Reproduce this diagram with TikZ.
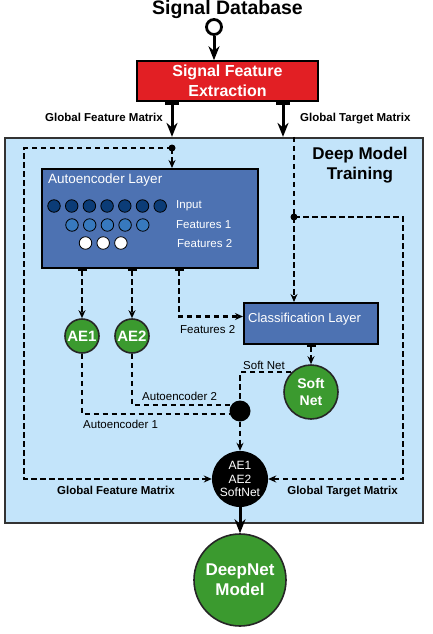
\documentclass[tikz,border=0pt]{standalone}
\usepackage{fontspec}
\setmainfont{Liberation Sans}
\usepackage{tikz}
\usetikzlibrary{arrows.meta, positioning}

\definecolor{sigred}{HTML}{E21F24}
\definecolor{trainbg}{HTML}{C3E4FA}
\definecolor{layerblue}{HTML}{4D72B2}
\definecolor{netgreen}{HTML}{3B9A2F}
\definecolor{inputblue}{HTML}{0B3C77}
\definecolor{featblue}{HTML}{3779BE}

\begin{document}
\begin{tikzpicture}[x=1pt, y=-1pt, >=Stealth, every node/.style={align=center, inner sep=0pt}]
  \tikzset{
    mainflow/.style={line width=3pt, {Bar[width=14pt, line width=3pt]}-{Stealth[length=14pt, width=11pt]}},
    dashline/.style={line width=2.2pt, dash pattern=on 5.5pt off 3.5pt},
    dashflow/.style={dashline, -{Stealth[length=8pt, width=7pt]}},
    tapflow/.style={dashline, {Bar[width=9pt, line width=1.8pt]}-{Stealth[length=8pt, width=7pt]}},
    layerbox/.style={draw=black, line width=2pt, fill=layerblue},
    greennode/.style={circle, draw=black!85, line width=1.6pt, fill=netgreen, text=white},
    blacknode/.style={circle, fill=black, text=white},
    neuron/.style={circle, draw=black, line width=0.8pt, minimum size=12.5pt},
    smalllabel/.style={font=\fontsize{11.5}{13}\selectfont},
    boldlabel/.style={font=\fontsize{11.5}{13}\selectfont\bfseries},
    whitelabel/.style={smalllabel, text=white},
  }
  \useasboundingbox (0,0) rectangle (433,634);

  % source and feature extraction
  \node[anchor=base, font=\fontsize{19.5}{22}\selectfont\bfseries] (sigdb) at (227.5,15) {Signal Database};
  \node[circle, draw, line width=2.8pt, minimum size=15pt, fill=white] (dbport) at (214,27) {};
  \node[draw=black, line width=1.5pt, fill=sigred, text=white, minimum width=181pt, minimum height=40pt,
        font=\fontsize{16}{19.5}\selectfont\bfseries] (sfe) at (227.5,81) {Signal Feature\\Extraction};
  \draw[line width=3pt, -{Stealth[length=14pt, width=11pt]}] (dbport) -- (dbport |- sfe.north);

  % training region
  \node[draw=black!80, line width=2.2pt, fill=trainbg, minimum width=418pt, minimum height=385pt] (training) at (214,330.5) {};
  \node[font=\fontsize{17}{20}\selectfont\bfseries] (dmt) at (360,165) {Deep Model\\Training};

  \coordinate (gfmcol) at (172,0);
  \coordinate (gtmcol) at (283,0);
  \draw[mainflow] (sfe.south -| gfmcol) -- (training.north -| gfmcol);
  \draw[mainflow] (sfe.south -| gtmcol) -- (training.north -| gtmcol);
  \node[boldlabel, anchor=base east] (gfmtop) at (163,121) {Global Feature Matrix};
  \node[boldlabel, anchor=base west] (gtmtop) at (300,121) {Global Target Matrix};

  % autoencoder layer
  \node[layerbox, minimum width=216pt, minimum height=99pt] (aelayer) at (150,218.5) {};
  \node[anchor=base west, font=\fontsize{13.5}{15}\selectfont, text=white] (aetitle) at (48,183) {Autoencoder Layer};
  \foreach \i in {0,...,6} \node[neuron, fill=inputblue] (in\i) at (54+17.7*\i,206) {};
  \foreach \i in {0,...,4} \node[neuron, fill=featblue] (fa\i) at (72+17.7*\i,225) {};
  \foreach \i in {0,...,2} \node[neuron, fill=white] (fb\i) at (85.5+17.7*\i,243) {};
  \node[whitelabel, anchor=base west] (inlabel) at (176,208) {Input};
  \node[whitelabel, anchor=base west] (falabel) at (176,228) {Features 1};
  \node[whitelabel, anchor=base west] (fblabel) at (177,247) {Features 2};

  % classification layer
  \node[layerbox, minimum width=134pt, minimum height=41pt] (clslayer) at (311,323.5) {};
  \node[anchor=base west, font=\fontsize{13}{15}\selectfont, text=white] (clstitle) at (248,322) {Classification Layer};

  % nets
  \node[greennode, minimum size=34pt, font=\fontsize{15}{17}\selectfont\bfseries] (ae1) at (82,336) {AE1};
  \node[greennode, minimum size=34pt, font=\fontsize{15}{17}\selectfont\bfseries] (ae2) at (132,336) {AE2};
  \node[greennode, minimum size=54pt, font=\fontsize{14}{17}\selectfont\bfseries] (softnet) at (311,392) {Soft\\Net};
  \node[blacknode, minimum size=21pt] (junction) at (240,411) {};
  \node[blacknode, minimum size=56pt, font=\fontsize{12}{13.5}\selectfont] (combined) at (240,479) {AE1\\AE2\\SoftNet};
  \node[greennode, minimum size=92pt, font=\fontsize{17}{20}\selectfont\bfseries] (deepnet) at (240,580) {DeepNet\\Model};

  % dashed flows
  \coordinate (gfmsplit) at (172,148);
  \coordinate (gfmleft) at (24,148);
  \coordinate (gtmsplit) at (294,217);
  \coordinate (gtmright) at (403,217);
  \coordinate (f2tap) at (179,0);
  \fill (gfmsplit) circle (3.5pt);
  \fill (gtmsplit) circle (3.5pt);
  \draw[dashflow] (gfmsplit) -- (aelayer.north -| gfmsplit);
  \draw[dashflow] (gfmsplit) -- (gfmleft) |- (combined.west);
  \draw[dashline] (training.north -| gtmsplit) -- (gtmsplit);
  \draw[dashflow] (gtmsplit) -- (clslayer.north -| gtmsplit);
  \draw[dashflow] (gtmsplit) -- (gtmright) |- (combined.east);

  \draw[tapflow] (aelayer.south -| ae1) -- (ae1.north);
  \draw[tapflow] (aelayer.south -| ae2) -- (ae2.north);
  \draw[tapflow] (aelayer.south -| f2tap) |- ([yshift=7pt]clslayer.west);
  \draw[tapflow] (clslayer.south -| softnet) -- (softnet.north);

  \draw[dashline] (ae1.south) |- (junction.197);
  \draw[dashline] (ae2.south) |- (junction.145);
  \draw[dashline] (softnet.135) -| (junction.north);
  \draw[dashflow] (junction.south) -- (combined.north);
  \draw[line width=3pt, -{Stealth[length=14pt, width=11pt]}] (combined.south) -- (deepnet.north);

  % flow labels
  \node[smalllabel, anchor=base west] (f2label) at (180,333) {Features 2};
  \node[smalllabel, anchor=base west] (ae2label) at (142,400) {Autoencoder 2};
  \node[smalllabel, anchor=base west] (ae1label) at (83,428) {Autoencoder 1};
  \node[smalllabel, anchor=base west] (snlabel) at (243,369) {Soft Net};
  \node[boldlabel, anchor=base] (gfmbot) at (116,494) {Global Feature Matrix};
  \node[boldlabel, anchor=base] (gtmbot) at (342.5,494) {Global Target Matrix};
\end{tikzpicture}
\end{document}
